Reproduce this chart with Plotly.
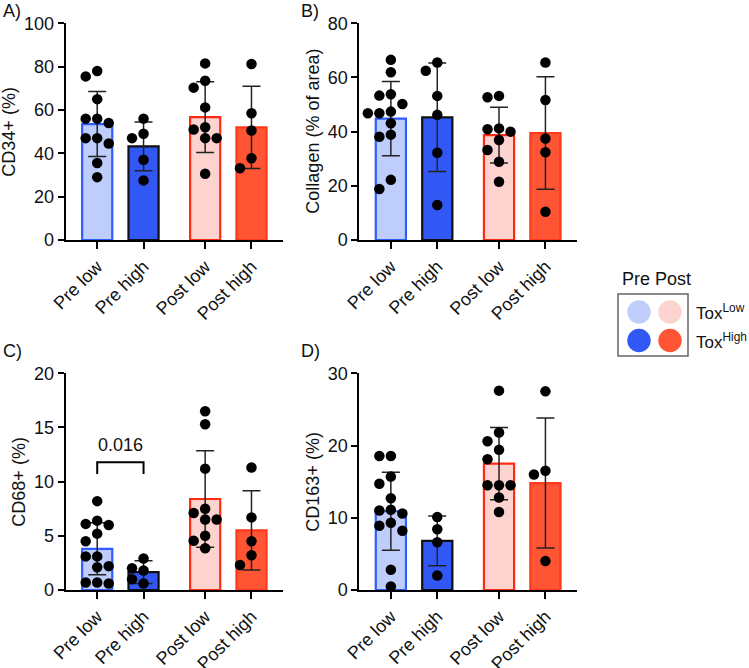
import plotly.graph_objects as go

# ---------------- data ----------------
categories = ["Pre low", "Pre high", "Post low", "Post high"]

# A) CD34+ (%)
cd34_pre_low = [78.0, 75.5, 65.0, 56.0, 56.0, 54.0, 47.0, 47.0, 44.5, 35.5, 29.0]
cd34_pre_high = [56.0, 49.0, 47.0, 37.0, 27.5]
cd34_post_low = [81.5, 73.5, 70.3, 61.2, 52.0, 51.0, 47.0, 47.0, 30.6]
cd34_post_high = [81.2, 58.5, 50.5, 37.7, 33.1]
cd34_mean = [53.5, 43.2, 56.7, 52.0]
cd34_sd = [15.0, 11.3, 16.3, 19.0]

# B) Collagen (% of area)
col_pre_low = [66.5, 61.9, 53.8, 53.3, 50.2, 47.4, 46.8, 46.8, 43.1, 38.9, 38.1, 22.2, 18.8]
col_pre_high = [65.5, 62.5, 53.2, 46.2, 32.2, 12.9]
col_post_low = [53.2, 52.7, 41.2, 40.9, 40.0, 36.9, 33.2, 28.9, 21.5]
col_post_high = [65.5, 51.7, 37.5, 32.4, 10.4]
col_mean = [44.8, 45.3, 38.7, 39.5]
col_sd = [13.7, 20.0, 10.3, 20.8]

# C) CD68+ (%)
cd68_pre_low = [8.2, 6.4, 6.1, 6.0, 5.2, 4.5, 3.1, 3.1, 2.2, 2.1, 0.7, 0.7, 0.6]
cd68_pre_high = [2.9, 2.0, 1.8, 1.0, 0.6]
cd68_post_low = [16.5, 15.3, 11.2, 7.5, 7.1, 6.5, 6.5, 5.0, 4.55, 3.85]
cd68_post_high = [11.3, 6.7, 4.5, 3.2, 2.3]
cd68_mean = [3.8, 1.65, 8.4, 5.5]
cd68_sd = [2.4, 1.05, 4.45, 3.65]
cd68_p_label = "0.016"
cd68_bracket_y = 11.8

# D) CD163+ (%)
cd163_pre_low = [18.55, 18.55, 15.7, 14.7, 12.7, 11.1, 11.0, 10.6, 9.3, 8.9, 8.2, 2.8, 0.5]
cd163_pre_high = [10.1, 8.4, 6.6, 2.0]
cd163_post_low = [27.6, 21.8, 20.6, 19.4, 18.1, 14.5, 14.5, 14.5, 12.8, 10.8]
cd163_post_high = [27.5, 16.5, 16.0, 4.0]
cd163_mean = [10.9, 6.8, 17.5, 14.8]
cd163_sd = [5.4, 3.45, 5.0, 9.0]

# ---------------- styling / layout ----------------
W, H = 749, 668
FONT = "Arial, Liberation Sans, Helvetica, sans-serif"
FS = 18
x_pos = [0, 1, 2.33, 3.33]
x_range = [-0.68, 4.01]
bar_fill = ["#bfcdfb", "#3158f5", "#fdd3cf", "#ff5535"]
bar_edge = ["#2f5cff", "#111111", "#ff2a10", "#ff3a1a"]
bar_edge_w = 2.2

panels = [
    dict(label="A)", title="CD34+ (%)", ymax=100, dtick=20, mean=cd34_mean, sd=cd34_sd,
         groups=[cd34_pre_low, cd34_pre_high, cd34_post_low, cd34_post_high],
         box=(65.7, 283, 23.3, 240), tx=9),
    dict(label="B)", title="Collagen (% of area)", ymax=80, dtick=20, mean=col_mean, sd=col_sd,
         groups=[col_pre_low, col_pre_high, col_post_low, col_post_high],
         box=(359.3, 577, 23.3, 240), tx=313),
    dict(label="C)", title="CD68+ (%)", ymax=20, dtick=5, mean=cd68_mean, sd=cd68_sd,
         groups=[cd68_pre_low, cd68_pre_high, cd68_post_low, cd68_post_high],
         box=(65.7, 283, 373.3, 590), tx=19),
    dict(label="D)", title="CD163+ (%)", ymax=30, dtick=10, mean=cd163_mean, sd=cd163_sd,
         groups=[cd163_pre_low, cd163_pre_high, cd163_post_low, cd163_post_high],
         box=(359.3, 577, 373.3, 590), tx=313),
]


def swarm(values, ppu_x, ppu_y, d=10.5, step=11.5):
    """Simple beeswarm: horizontal offsets (data units) so dots don't overlap."""
    placed, offs = [], []
    for v in values:
        y = v * ppu_y
        chosen = 0.0
        for k in [0, -1, 1, -2, 2, -3, 3, -4, 4]:
            x = k * step
            if all((x - px) ** 2 + (y - py) ** 2 >= d * d for px, py in placed):
                chosen = x
                break
        placed.append((chosen, y))
        offs.append(chosen / ppu_x)
    return offs


fig = go.Figure()
layout = dict(
    width=W, height=H, margin=dict(l=0, r=0, t=0, b=0, autoexpand=False),
    paper_bgcolor="white", plot_bgcolor="white", showlegend=False,
    font=dict(family=FONT, size=FS, color="#111"),
)
annotations, shapes = [], []

for i, p in enumerate(panels):
    n = i + 1
    sfx = "" if n == 1 else str(n)
    xa, ya = "x" + sfx, "y" + sfx
    x0, x1, y0, y1 = p["box"]
    ppu_x = (x1 - x0) / (x_range[1] - x_range[0])
    ppu_y = (y1 - y0) / p["ymax"]

    fig.add_trace(go.Bar(
        x=x_pos, y=p["mean"], width=0.65, xaxis=xa, yaxis=ya,
        marker=dict(color=bar_fill, line=dict(color=bar_edge, width=bar_edge_w)),
        error_y=dict(type="data", array=p["sd"], visible=True, color="#222",
                     thickness=1.5, width=9),
        hoverinfo="skip",
    ))
    xs, ys = [], []
    for g, vals in enumerate(p["groups"]):
        offs = swarm(vals, ppu_x, ppu_y)
        xs += [x_pos[g] + o for o in offs]
        ys += list(vals)
    fig.add_trace(go.Scatter(
        x=xs, y=ys, mode="markers", xaxis=xa, yaxis=ya, cliponaxis=False,
        marker=dict(size=10.5, color="black", line=dict(width=0)),
    ))

    layout["xaxis" + sfx] = dict(
        domain=[x0 / W, x1 / W], range=x_range, anchor=ya, automargin=False,
        tickmode="array", tickvals=x_pos, ticktext=categories, tickangle=-45,
        showline=True, linecolor="black", linewidth=2, ticks="outside",
        ticklen=7, tickwidth=2, tickcolor="black", showgrid=False, zeroline=False,
        tickfont=dict(family=FONT, size=FS, color="#111"), fixedrange=True,
    )
    layout["yaxis" + sfx] = dict(
        domain=[1 - y1 / H, 1 - y0 / H], range=[0, p["ymax"]], anchor=xa, automargin=False,
        dtick=p["dtick"], tick0=0, showline=True, linecolor="black", linewidth=2,
        ticks="outside", ticklen=6, tickwidth=2, tickcolor="black",
        showgrid=False, zeroline=False,
        tickfont=dict(family=FONT, size=FS, color="#111"), fixedrange=True,
    )
    # y-axis title
    annotations.append(dict(
        text=p["title"], xref="paper", yref="paper", x=p["tx"] / W, y=1 - (y0 + y1) / 2 / H,
        textangle=-90, showarrow=False, xanchor="center", yanchor="middle",
        font=dict(family=FONT, size=FS, color="#111"),
    ))
    # panel label
    lx = 1 if x0 < 200 else 299
    ly = 11 if y0 < 200 else 351
    annotations.append(dict(
        text=p["label"], xref="paper", yref="paper", x=lx / W, y=1 - ly / H,
        showarrow=False, xanchor="left", yanchor="middle",
        font=dict(family=FONT, size=FS, color="#111"),
    ))

# significance bracket in panel C
shapes.append(dict(
    type="path", xref="x3", yref="y3",
    path=f"M {x_pos[0]},{cd68_bracket_y - 1.1} L {x_pos[0]},{cd68_bracket_y} "
         f"L {x_pos[1]},{cd68_bracket_y} L {x_pos[1]},{cd68_bracket_y - 1.1}",
    line=dict(color="black", width=2),
))
annotations.append(dict(
    text=cd68_p_label, xref="x3", yref="y3", x=(x_pos[0] + x_pos[1]) / 2,
    y=cd68_bracket_y + 0.5, showarrow=False, xanchor="center", yanchor="bottom",
    font=dict(family=FONT, size=FS, color="#111"),
))

# custom legend (Pre / Post  x  Tox Low / High)
def px2paper(x, y):
    return x / W, 1 - y / H

bx0, by1 = px2paper(618, 294)
bx1, by0 = px2paper(688, 356)
shapes.append(dict(type="rect", xref="paper", yref="paper", x0=bx0, x1=bx1, y0=by0, y1=by1,
                   line=dict(color="#666", width=1.5), fillcolor="white"))
swatch_centers = [(639, 312, 0), (670, 312, 2), (639, 340.5, 1), (670, 340.5, 3)]
r = 11.7
for cx, cy, ci in swatch_centers:
    a0, b1 = px2paper(cx - r, cy - r)
    a1, b0 = px2paper(cx + r, cy + r)
    shapes.append(dict(type="circle", xref="paper", yref="paper", x0=a0, x1=a1, y0=b0, y1=b1,
                       fillcolor=bar_fill[ci], line=dict(width=0)))
ax, ay = px2paper(656.7, 279)
annotations.append(dict(text="Pre Post", xref="paper", yref="paper", x=ax, y=ay,
                        showarrow=False, xanchor="center", yanchor="middle",
                        font=dict(family=FONT, size=FS, color="#111")))
for label, cy in [("Tox<sup>Low</sup>", 312), ("Tox<sup>High</sup>", 340.5)]:
    tx, ty = px2paper(694, cy)
    annotations.append(dict(text=label, xref="paper", yref="paper", x=tx, y=ty,
                            showarrow=False, xanchor="left", yanchor="middle",
                            font=dict(family=FONT, size=17, color="#111")))

layout["annotations"] = annotations
layout["shapes"] = shapes
fig.update_layout(**layout)
fig.write_html(
    "out.html",
    config={"displayModeBar": False, "staticPlot": True},
    post_script="document.body.style.margin='0';document.body.style.overflow='hidden';",
)
